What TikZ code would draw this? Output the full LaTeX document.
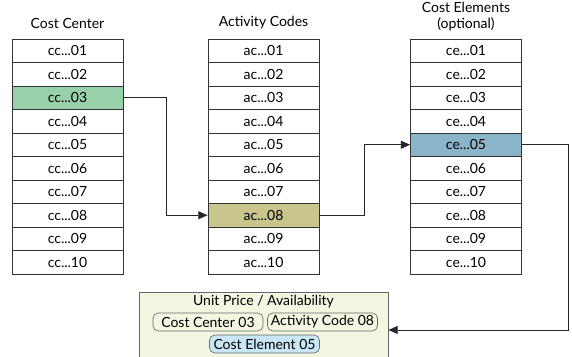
\documentclass[tikz,border=0pt]{standalone}
\usepackage{fontspec}
\setmainfont{Lato}
\usetikzlibrary{arrows.meta}
\definecolor{ccgreen}{RGB}{152,208,170}
\definecolor{acolive}{RGB}{201,197,140}
\definecolor{ceblue}{RGB}{138,180,200}
\definecolor{upacream}{RGB}{244,246,226}
\definecolor{pillblue}{RGB}{200,230,245}
\begin{document}
\begin{tikzpicture}
      [x=0.75pt,y=-0.75pt,font=\fontsize{10.5}{12}\selectfont,
      row/.style={draw=black!80,line width=0.6pt,minimum width=83.25pt,
        minimum height=17.6pt,inner sep=0pt},
      pick cc3/.style={fill=ccgreen},
      pick ac8/.style={fill=acolive},
      pick ce5/.style={fill=ceblue},
      pill/.style={draw=black!60,line width=0.5pt,rounded corners=4pt,
        fill=upacream,minimum width=82.5pt,minimum height=13.5pt,inner sep=1pt},
      link/.style={draw=black!85,line width=0.6pt,-{Triangle[length=7pt,width=6pt]}}]
      \clip (0,0) rectangle (572,357);
      % column titles
      \node (cctitle) at (67.5,23) {Cost Center};
      \node (actitle) at (263.5,23) {Activity Codes};
      \node[align=center] (cetitle) at (466,17) {Cost Elements\\(optional)};
      % the three code columns
      \foreach \i in {1,...,10} {
        \node[row,pick cc\i/.try] (cc\i) at (67.5,27.25+23.5*\i) {cc...\ifnum\i<10 0\fi\i};
        \node[row,pick ac\i/.try] (ac\i) at (263.5,27.25+23.5*\i) {ac...\ifnum\i<10 0\fi\i};
        \node[row,pick ce\i/.try] (ce\i) at (466,27.25+23.5*\i) {ce...\ifnum\i<10 0\fi\i};
      }
      % result box
      \node[draw=black!60,line width=0.6pt,fill=upacream,minimum width=186.75pt,
        minimum height=57pt] (upa) at (263.5,330) {};
      \node (upatitle) at (263.5,302) {Unit Price / Availability};
      \node[pill] (pcc) at (208,322) {Cost Center 03};
      \node[pill] (pac) at (322.5,322) {Activity Code 08};
      \node[pill,fill=pillblue] (pce) at (264.5,344) {Cost Element 05};
      % connectors
      \path[link] (cc3.east) -- ++(43,0) |- (ac8.west);
      \path[link] (ac8.east) -- ++(45,0) |- (ce5.west);
      \path[link] (ce5.east) -- ++(46,0) |- (upa.east);
\end{tikzpicture}
\end{document}
